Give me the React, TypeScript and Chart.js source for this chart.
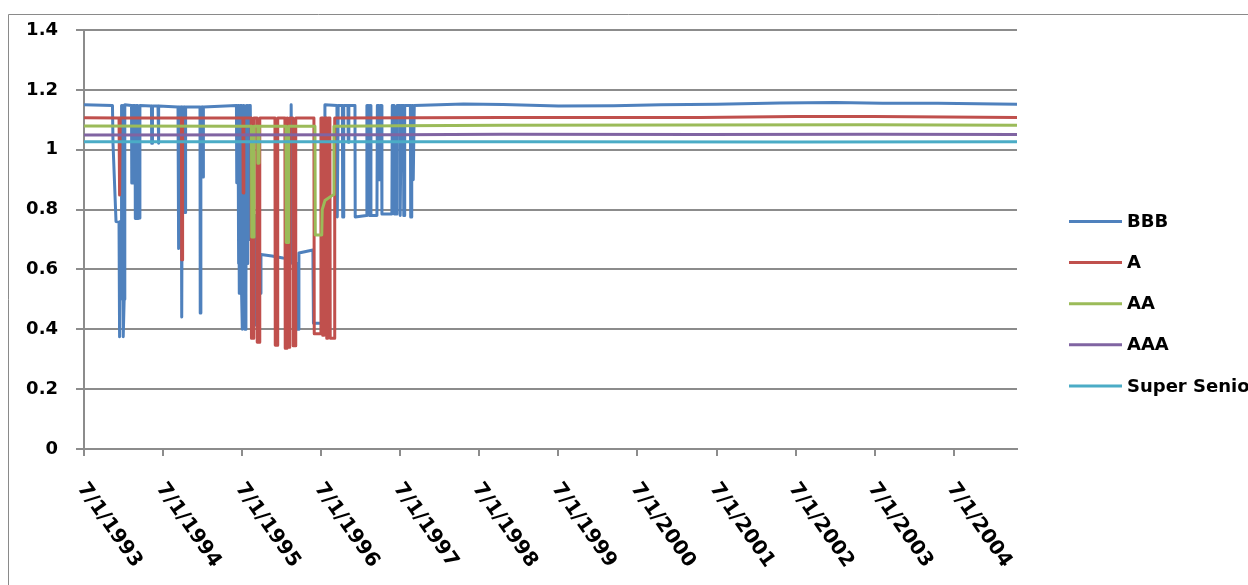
import React, { useEffect, useRef } from "react";
import { Chart, registerables } from "chart.js";

Chart.register(...registerables);

// ---------- data ----------
const seriesNames = ["BBB", "A", "AA", "AAA", "Super Senior"];
const seriesColors = ["#4F81BD", "#C0504D", "#9BBB59", "#8064A2", "#4BACC6"];

const xTickYears = [1993.5, 1994.5, 1995.5, 1996.5, 1997.5, 1998.5, 1999.5, 2000.5, 2001.5, 2002.5, 2003.5, 2004.5];
const xTickLabels = ["7/1/1993", "7/1/1994", "7/1/1995", "7/1/1996", "7/1/1997", "7/1/1998", "7/1/1999", "7/1/2000", "7/1/2001", "7/1/2002", "7/1/2003", "7/1/2004"];
const xMin = 1993.5;
const xMax = 2005.3;
const yMin = 0;
const yMax = 1.4;
const yStep = 0.2;

// [decimal year, value]
const bbb: [number, number][] = [
  [1993.5, 1.15], [1993.86, 1.148], [1993.867, 1.02], [1993.905, 0.76], [1993.943, 0.758], [1993.946, 0.375],
  [1993.954, 0.375], [1993.959, 0.76], [1993.972, 0.76], [1993.975, 1.148], [1993.983, 0.5], [1993.991, 1.148],
  [1993.996, 0.375], [1994.003, 0.375], [1994.008, 0.5], [1994.016, 1.15], [1994.101, 1.148], [1994.104, 0.889],
  [1994.111, 0.889], [1994.115, 1.148], [1994.145, 1.148], [1994.149, 0.77], [1994.158, 0.77], [1994.163, 1.148],
  [1994.175, 1.148], [1994.179, 0.77], [1994.202, 0.772], [1994.207, 1.148], [1994.353, 1.146], [1994.356, 1.022],
  [1994.364, 1.022], [1994.366, 1.146], [1994.436, 1.146], [1994.438, 1.022], [1994.446, 1.022], [1994.448, 1.146],
  [1994.689, 1.143], [1994.692, 0.67], [1994.701, 0.67], [1994.706, 1.143], [1994.729, 1.143], [1994.733, 0.441],
  [1994.739, 0.441], [1994.744, 1.143], [1994.771, 1.143], [1994.775, 0.79], [1994.781, 0.79], [1994.785, 1.143],
  [1994.967, 1.143], [1994.97, 0.454], [1994.977, 0.454], [1994.979, 1.143], [1994.998, 1.143], [1995.001, 0.909],
  [1995.007, 0.909], [1995.01, 1.143], [1995.428, 1.148], [1995.432, 0.89], [1995.441, 0.89], [1995.445, 1.148],
  [1995.448, 1.148], [1995.451, 0.62], [1995.456, 1.148],
  [1995.46, 1.148], [1995.464, 0.52], [1995.472, 0.52], [1995.476, 1.148],
  [1995.479, 1.148], [1995.482, 0.6], [1995.487, 1.148],
  [1995.491, 1.148], [1995.495, 0.52],
  [1995.502, 0.4], [1995.51, 0.4], [1995.514, 1.148],
  [1995.517, 1.148], [1995.519, 0.6], [1995.521, 1.148],
  [1995.523, 1.148], [1995.527, 0.52], [1995.536, 0.4],
  [1995.543, 0.4], [1995.548, 0.52], [1995.555, 1.148],
  [1995.56, 1.148], [1995.563, 0.62], [1995.568, 1.148],
  [1995.574, 1.148], [1995.577, 0.95], [1995.586, 0.95], [1995.59, 1.148],
  [1995.595, 1.148], [1995.598, 0.7], [1995.603, 1.148],
  [1995.612, 1.148], [1995.615, 0.78], [1995.656, 0.78], [1995.662, 0.414], [1995.672, 0.414],
  [1995.677, 0.78], [1995.706, 0.78], [1995.713, 0.52], [1995.732, 0.52], [1995.738, 0.65], [1995.877, 0.645],
  [1996.016, 0.638], [1996.115, 0.636], [1996.12, 1.15], [1996.13, 1.15], [1996.135, 0.62], [1996.187, 0.62],
  [1996.193, 0.4], [1996.212, 0.4], [1996.218, 0.655], [1996.395, 0.665], [1996.402, 0.42], [1996.503, 0.42],
  [1996.509, 0.9], [1996.541, 0.9], [1996.547, 1.15], [1996.699, 1.148], [1996.703, 0.775], [1996.712, 0.775],
  [1996.715, 1.148], [1996.768, 1.148], [1996.772, 0.775], [1996.781, 0.775], [1996.785, 1.148], [1996.838, 1.148],
  [1996.842, 1.025], [1996.848, 1.025], [1996.851, 1.148], [1996.927, 1.148], [1996.93, 0.775], [1997.072, 0.78],
  [1997.078, 1.148], [1997.091, 1.148], [1997.095, 0.9], [1997.104, 1.148], [1997.11, 0.78], [1997.123, 1.148],
  [1997.129, 0.78], [1997.205, 0.78], [1997.21, 1.148], [1997.224, 1.148], [1997.227, 0.9], [1997.236, 0.9],
  [1997.243, 1.148], [1997.262, 1.148], [1997.268, 0.785], [1997.394, 0.785], [1997.399, 1.148], [1997.42, 1.148],
  [1997.424, 0.785], [1997.451, 0.785], [1997.458, 1.148], [1997.496, 1.148], [1997.499, 0.78], [1997.508, 0.78],
  [1997.512, 1.148], [1997.54, 1.148], [1997.544, 0.78], [1997.552, 0.78], [1997.556, 1.148], [1997.628, 1.148],
  [1997.632, 0.775], [1997.641, 0.775], [1997.645, 1.148], [1997.66, 1.148], [1997.664, 0.9], [1997.673, 0.9],
  [1997.677, 1.148], [1998.3, 1.153], [1998.8, 1.151], [1999.5, 1.146], [2000.2, 1.147], [2000.8, 1.15],
  [2001.5, 1.152], [2002.3, 1.156], [2003.0, 1.158], [2003.6, 1.155], [2004.3, 1.155], [2005.3, 1.152],
];

const ratingA: [number, number][] = [
  [1993.5, 1.107], [1993.943, 1.106], [1993.946, 0.849], [1993.954, 0.849], [1993.958, 1.106], [1994.732, 1.106],
  [1994.735, 0.632], [1994.743, 0.632], [1994.747, 1.106], [1995.51, 1.106], [1995.513, 0.855], [1995.52, 0.855],
  [1995.523, 1.106], [1995.614, 1.106], [1995.618, 0.37], [1995.643, 0.37], [1995.647, 1.106], [1995.687, 1.106],
  [1995.691, 0.357], [1995.719, 0.357], [1995.723, 1.106], [1995.915, 1.106], [1995.919, 0.347], [1995.947, 0.347],
  [1995.95, 1.106], [1996.041, 1.106], [1996.045, 0.337], [1996.067, 0.337], [1996.071, 1.106], [1996.079, 1.106],
  [1996.083, 0.34], [1996.098, 0.34], [1996.102, 1.106], [1996.143, 1.106], [1996.146, 0.345], [1996.174, 0.345],
  [1996.178, 1.106], [1996.408, 1.106], [1996.412, 0.385], [1996.49, 0.385], [1996.497, 1.106], [1996.516, 1.106],
  [1996.519, 0.38], [1996.535, 0.38], [1996.538, 1.106], [1996.566, 1.106], [1996.57, 0.37], [1996.585, 0.37],
  [1996.589, 1.106], [1996.61, 1.106], [1996.614, 0.37], [1996.667, 0.37], [1996.671, 1.106], [1998.8, 1.108],
  [2001.3, 1.108], [2002.5, 1.111], [2003.5, 1.111], [2005.3, 1.108],
];

const ratingAA: [number, number][] = [
  [1993.5, 1.079], [1995.618, 1.078], [1995.622, 0.708], [1995.643, 0.708], [1995.65, 1.078], [1995.698, 1.078],
  [1995.7, 0.955], [1995.713, 0.955], [1995.716, 1.078], [1996.054, 1.078], [1996.058, 0.69], [1996.083, 0.69],
  [1996.087, 1.078], [1996.421, 1.078], [1996.425, 0.715], [1996.507, 0.715], [1996.513, 0.8], [1996.547, 0.83],
  [1996.655, 0.85], [1996.661, 1.078], [1997.5, 1.08], [1998.8, 1.082], [2003.4, 1.083], [2005.3, 1.082],
];

const ratingAAA: [number, number][] = [
  [1993.5, 1.049], [1997.5, 1.05], [1998.8, 1.052], [2001.3, 1.051], [2003.5, 1.052], [2005.3, 1.051],
];

const superSenior: [number, number][] = [
  [1993.5, 1.027], [1999.0, 1.027], [2002.5, 1.026], [2005.3, 1.027],
];

const seriesData = [bbb, ratingA, ratingAA, ratingAAA, superSenior];

// ---------- styling ----------
const GRID = "#8c8c8c";
const FONT_FAMILY = "'DejaVu Sans'";

const framePlugin = {
  id: "frame",
  beforeDraw(chart: any) {
    const ctx = chart.ctx;
    ctx.save();
    ctx.fillStyle = "#ffffff";
    ctx.fillRect(0, 0, chart.width, chart.height);
    ctx.strokeStyle = "#8a8a8a";
    ctx.lineWidth = 1;
    ctx.beginPath();
    ctx.moveTo(8.5, chart.height);
    ctx.lineTo(8.5, 14.5);
    ctx.lineTo(chart.width, 14.5);
    ctx.stroke();
    ctx.restore();
  },
};

const xLabelPlugin = {
  id: "xLabels",
  afterDraw(chart: any) {
    const ctx = chart.ctx;
    const xs = chart.scales.x;
    const base = chart.chartArea.bottom;
    ctx.save();
    ctx.fillStyle = "#000000";
    ctx.font = `bold 20px ${FONT_FAMILY}`;
    ctx.textAlign = "left";
    ctx.textBaseline = "alphabetic";
    xTickYears.forEach((yr, i) => {
      const px = xs.getPixelForValue(yr);
      ctx.save();
      ctx.translate(px - 7, base + 39);
      ctx.rotate((55 * Math.PI) / 180);
      ctx.fillText(xTickLabels[i], 0, 0);
      ctx.restore();
    });
    ctx.restore();
  },
};

const legendPlugin = {
  id: "sideLegend",
  afterDraw(chart: any) {
    const ctx = chart.ctx;
    const x0 = chart.chartArea.right + 52;
    ctx.save();
    ctx.font = `bold 18px ${FONT_FAMILY}`;
    ctx.textAlign = "left";
    ctx.textBaseline = "middle";
    chart.data.datasets.forEach((ds: any, i: number) => {
      const y = 221.5 + i * 41.1;
      ctx.strokeStyle = ds.borderColor;
      ctx.lineWidth = 3;
      ctx.beginPath();
      ctx.moveTo(x0, y);
      ctx.lineTo(x0 + 53, y);
      ctx.stroke();
      ctx.fillStyle = "#000000";
      ctx.fillText(ds.label, x0 + 58, y + 1);
    });
    ctx.restore();
  },
};

export default function App() {
  const canvasRef = useRef<HTMLCanvasElement | null>(null);

  useEffect(() => {
    if (!canvasRef.current) return;
    const chart = new Chart(canvasRef.current, {
      type: "line",
      data: {
        datasets: seriesNames.map((name, i) => ({
          label: name,
          data: seriesData[i] as any,
          borderColor: seriesColors[i],
          backgroundColor: seriesColors[i],
          borderWidth: 3,
          pointRadius: 0,
          tension: 0,
          fill: false,
          borderJoinStyle: "round" as const,
          borderCapStyle: "round" as const,
          order: seriesNames.length - i,
        })),
      },
      options: {
        animation: false,
        responsive: true,
        maintainAspectRatio: false,
        layout: { padding: { top: 30, right: 231, bottom: 0, left: 0 } },
        plugins: {
          legend: { display: false },
          tooltip: { enabled: false },
        },
        events: [],
        scales: {
          x: {
            type: "linear",
            min: xMin,
            max: xMax,
            afterBuildTicks: (s: any) => {
              s.ticks = xTickYears.map((v) => ({ value: v }));
            },
            afterFit: (s: any) => {
              s.height = 136;
            },
            ticks: { display: false },
            grid: { drawOnChartArea: false, drawTicks: true, tickLength: 7, color: GRID, lineWidth: 2 },
            border: { display: true, color: GRID, width: 2 },
          },
          y: {
            min: yMin,
            max: yMax,
            afterFit: (s: any) => {
              s.width = 84;
            },
            ticks: {
              stepSize: yStep,
              color: "#000000",
              padding: 18,
              font: { family: "DejaVu Sans", size: 18, weight: "bold" },
              callback: (v: any) => String(Math.round(Number(v) * 10) / 10),
            },
            grid: { color: GRID, lineWidth: 2, drawTicks: true, tickLength: 8 },
            border: { display: true, color: GRID, width: 2 },
          },
        },
      },
      plugins: [framePlugin, xLabelPlugin, legendPlugin],
    });
    return () => chart.destroy();
  }, []);

  return (
    <div style={{ position: "fixed", left: 0, top: 0, width: "1248px", height: "585px", background: "#fff" }}>
      <canvas ref={canvasRef} />
    </div>
  );
}
